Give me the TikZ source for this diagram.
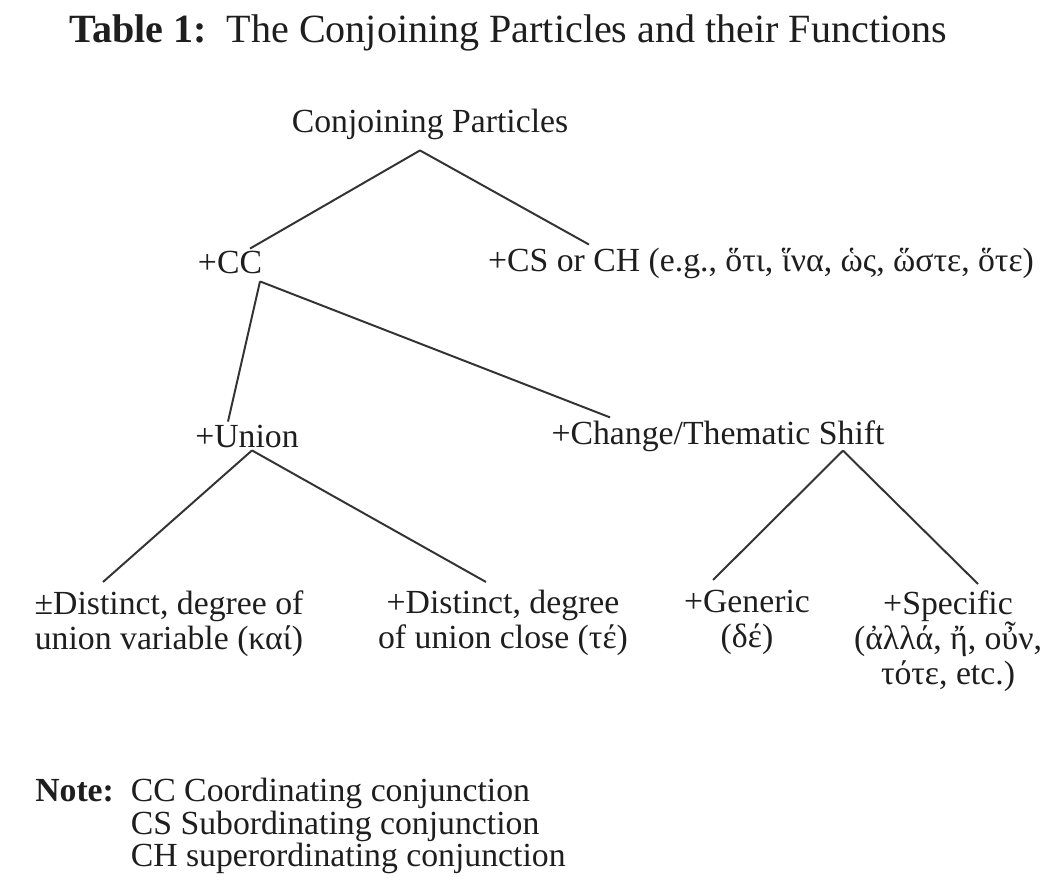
\documentclass[tikz,border=0pt]{standalone}
\usepackage{fontspec}
\setmainfont{Liberation Serif}
\usepackage{xcolor}
\usepackage{tikz}
\usetikzlibrary{positioning}
\definecolor{ink}{HTML}{1E1E1E}
\definecolor{linegray}{HTML}{333333}
\tikzset{
  label/.style={text=ink, align=center, inner sep=2pt},
  leaf/.style={text=ink, align=center, anchor=north, inner sep=0pt},
  branch/.style={draw=linegray, line width=1.4pt}
}

\begin{document}
\begin{tikzpicture}[font=\fontsize{24}{25}\selectfont]
  \useasboundingbox (0,0) rectangle (26.325,22.25);

  \node[label, font=\fontsize{28.5}{30}\selectfont] (title) at (12.7,21.42) {\textbf{Table 1:}\, The Conjoining Particles and their Functions};

  \node[label] (root) at (10.75,19.15) {Conjoining Particles};
  \node[label] (cc) at (5.75,15.675) {+CC};
  \node[label] (cs) at (19.025,15.675) {+CS or CH (e.g., ὅτι, ἵνα, ὡς, ὥστε, ὅτε)};
  \node[label] (union) at (6.175,11.35) {+Union};
  \node[label] (change) at (17.95,11.35) {+Change/Thematic Shift};

  \node[leaf] (kai) at (4.225,7.5) {±Distinct, degree of\\union variable (καί)};
  \node[leaf] (te) at (12.575,7.5) {+Distinct, degree\\of union close (τέ)};
  \node[leaf] (generic) at (18.675,7.5) {+Generic\\(δέ)};
  \node[leaf] (specific) at (23.7,7.5) {+Specific\\(ἀλλά, ἤ, οὖν,\\τότε, etc.)};

  \node[anchor=north west, inner sep=0pt, text=ink] (note) at (0.875,2.83) {%
    \begin{tabular}{@{}l@{\hspace{0.5em}}l@{}}
      \textbf{Note:} & CC Coordinating conjunction\\[-2pt]
                     & CS Subordinating conjunction\\[-2pt]
                     & CH superordinating conjunction
    \end{tabular}};

  \draw[branch] ([xshift=-0.25cm,yshift=-0.2cm]root.south) -- ([xshift=0.5cm]cc.north);
  \draw[branch] ([xshift=-0.25cm,yshift=-0.2cm]root.south) -- ([xshift=-4.3cm]cs.north);
  \draw[branch] ([xshift=0.75cm,yshift=-0.1cm]cc.south) -- ([xshift=-0.475cm]union.north);
  \draw[branch] ([xshift=0.75cm,yshift=-0.1cm]cc.south) -- ([xshift=-2.7cm]change.north);
  \draw[branch] ([xshift=0.125cm]union.south) -- ([xshift=-1.65cm,yshift=0.2cm]kai.north);
  \draw[branch] ([xshift=0.125cm]union.south) -- ([xshift=-0.425cm,yshift=0.2cm]te.north);
  \draw[branch] ([xshift=3.125cm,yshift=0.1cm]change.south) -- ([xshift=-0.85cm,yshift=0.25cm]generic.north);
  \draw[branch] ([xshift=3.125cm,yshift=0.1cm]change.south) -- ([xshift=0.75cm,yshift=0.15cm]specific.north);
\end{tikzpicture}
\end{document}
